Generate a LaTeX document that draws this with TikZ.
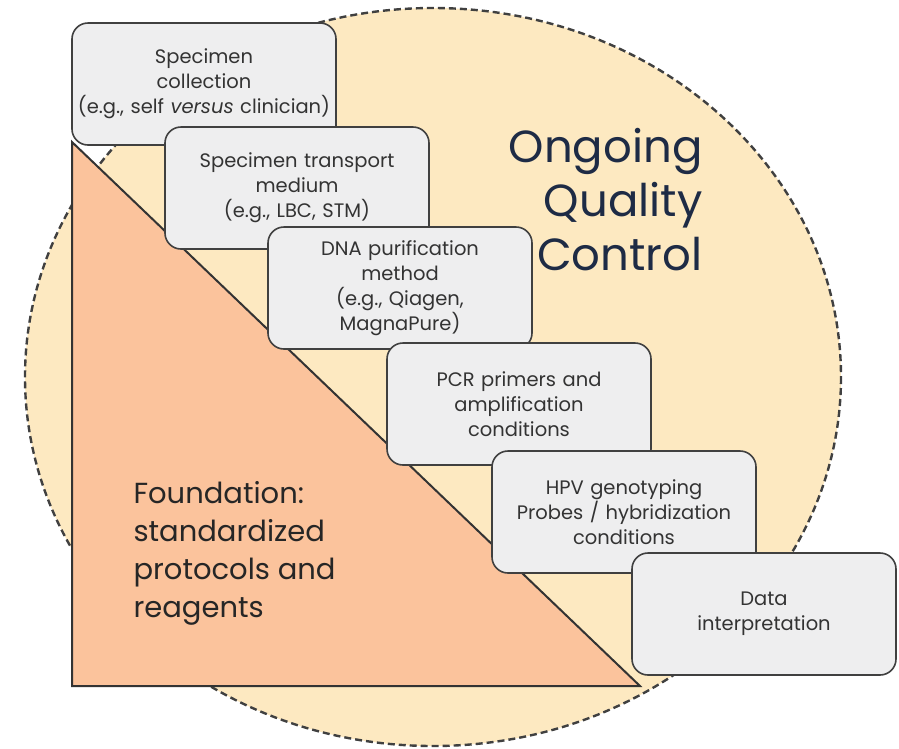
\documentclass[tikz,border=0pt]{standalone}
\usepackage{fontspec}
\setmainfont{Poppins}
\usetikzlibrary{positioning}

\definecolor{qcfill}{HTML}{FDE9C1}
\definecolor{basefill}{HTML}{FBC39C}
\definecolor{boxfill}{HTML}{EEEEEF}
\definecolor{qcnavy}{HTML}{1E2B45}

\tikzset{
  stepbox/.style={draw=black!75, line width=1.6pt, fill=boxfill, rounded corners=16pt,
    minimum width=264pt, minimum height=122pt, text width=258pt, align=center,
    inner sep=0pt, text=black!80, font=\fontsize{19.5}{25}\selectfont},
}

\begin{document}
\begin{tikzpicture}[x=1pt, y=-1pt]
  \useasboundingbox (0,0) rectangle (899,748);
  % ongoing quality control
  \draw[fill=qcfill, draw=black!75, line width=2.4pt, dash pattern=on 7pt off 4pt]
    (433,377) ellipse [x radius=408, y radius=369];
  % foundation
  \draw[fill=basefill, draw=black!80, line width=2pt] (72,142) -- (72,686) -- (640,686) -- cycle;
  \node[anchor=west, align=left, text=black!85, font=\fontsize{29}{38}\selectfont] (found) at (130,553)
    {Foundation:\\standardized\\protocols and\\reagents};
  \node[anchor=east, align=right, text=qcnavy, font=\fontsize{45}{54}\selectfont] (qc) at (706,200)
    {Ongoing\\Quality\\Control};
  % steps
  \node[stepbox] (collect) at (204,84) {Specimen\\collection\\(e.g., self \textit{versus} clinician)};
  \node[stepbox] (medium) at (297,188) {Specimen transport\\medium\\(e.g., LBC, STM)};
  \node[stepbox] (purify) at (400,288) {DNA purification\\method\\(e.g., Qiagen,\\MagnaPure)};
  \node[stepbox] (pcr) at (519,404) {PCR primers and\\amplification\\conditions};
  \node[stepbox] (geno) at (624,512) {HPV genotyping\\Probes / hybridization\\conditions};
  \node[stepbox] (interp) at (764,614) {Data\\interpretation};
\end{tikzpicture}
\end{document}
